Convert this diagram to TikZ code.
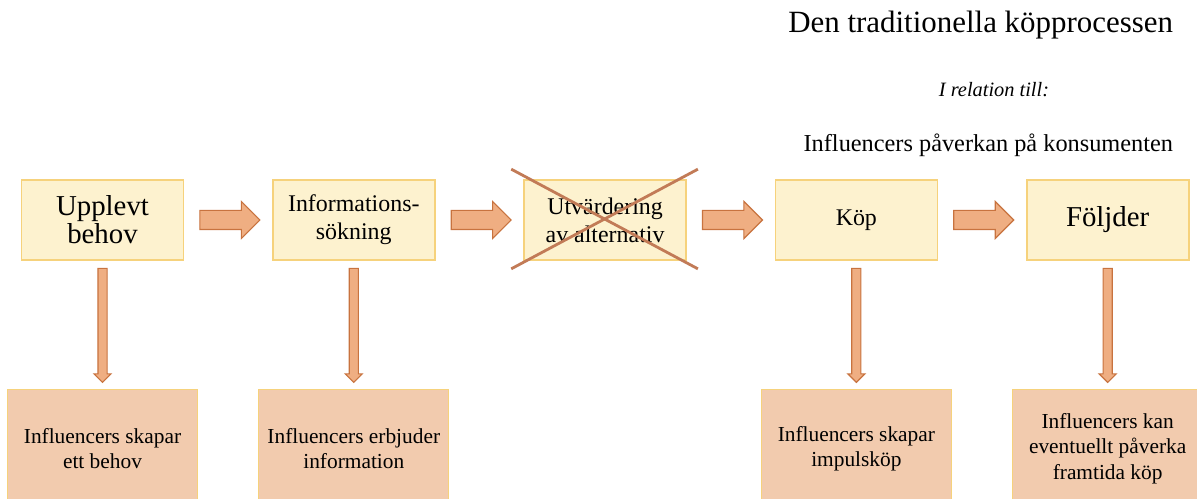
\documentclass[tikz,border=0pt]{standalone}
\usepackage{fontspec}
\setmainfont{Liberation Serif}
\usetikzlibrary{positioning, shapes.arrows, calc}
\definecolor{stegfill}{HTML}{FDF2CF}
\definecolor{stegline}{HTML}{F6D27C}
\definecolor{effektfill}{HTML}{F2CBAE}
\definecolor{pilfill}{HTML}{EFAE82}
\definecolor{pilline}{HTML}{C8733F}
\definecolor{kryss}{HTML}{C27B57}

\begin{document}
\begin{tikzpicture}[
      steg/.style={draw=stegline, line width=1.2pt, fill=stegfill, minimum width=4.05cm, minimum height=2cm,
        align=center, font=\fontsize{17}{20}\selectfont},
      storsteg/.style={steg, font=\fontsize{20.5}{20}\selectfont},
      effekt/.style={draw=stegline, line width=1pt, fill=effektfill, minimum width=4.75cm, minimum height=2.95cm,
        align=center, font=\fontsize{15.2}{18}\selectfont},
      hpil/.style={single arrow, draw=pilline, fill=pilfill, line width=0.8pt, inner xsep=0pt, inner ysep=0.225cm,
        single arrow head extend=0.225cm, minimum height=1.5cm, anchor=tail},
      vpil/.style={single arrow, draw=pilline, fill=pilfill, line width=0.8pt, inner xsep=0pt, inner ysep=0.1cm,
        single arrow head extend=0.1cm, minimum height=2.85cm, anchor=tail, rotate=-90},
    ]
    \useasboundingbox (0,0) rectangle (29.925,-12.475);

    % rubriker
    \node[anchor=base east, font=\fontsize{22}{24}\selectfont] (titel) at (29.45,-0.82) {Den traditionella köpprocessen};
    \node[anchor=base, font=\fontsize{14.5}{17}\selectfont\itshape] (relation) at (24.85,-2.425) {I relation till:};
    \node[anchor=base east, font=\fontsize{17.3}{20}\selectfont] (paverkan) at (29.45,-3.8) {Influencers påverkan på konsumenten};

    % köpprocessen
    \node[storsteg] (behov) at (2.5625,-5.5) {Upplevt\\behov};
    \node[steg, right=2.19cm of behov] (sok) {Informations-\\sökning};
    \node[steg, right=2.19cm of sok] (utv) {Utvärdering\\av alternativ};
    \node[steg, right=2.19cm of utv] (kop) {Köp};
    \node[storsteg, right=2.19cm of kop] (foljd) {Följder};

    \node[hpil] (p1) at ($(behov.east)+(0.375,0)$) {};
    \node[hpil] (p2) at ($(sok.east)+(0.375,0)$) {};
    \node[hpil] (p3) at ($(utv.east)+(0.375,0)$) {};
    \node[hpil] (p4) at ($(kop.east)+(0.375,0)$) {};

    % överkryssat steg
    \draw[kryss, line width=2pt] ($(utv.north west)+(-0.3,0.25)$) -- ($(utv.south east)+(0.275,-0.2)$);
    \draw[kryss, line width=2pt] ($(utv.north east)+(0.275,0.25)$) -- ($(utv.south west)+(-0.3,-0.2)$);

    % influencers
    \node[effekt, below=3.2cm of behov] (e1) {Influencers skapar\\ett behov};
    \node[effekt, below=3.2cm of sok] (e2) {Influencers erbjuder\\information};
    \node[effekt, below=3.2cm of kop] (e3) {Influencers skapar\\impulsköp};
    \node[effekt, below=3.2cm of foljd] (e4) {Influencers kan\\eventuellt påverka\\framtida köp};

    \node[vpil] (q1) at ($(behov.south)+(0,-0.175)$) {};
    \node[vpil] (q2) at ($(sok.south)+(0,-0.175)$) {};
    \node[vpil] (q3) at ($(kop.south)+(0,-0.175)$) {};
    \node[vpil] (q4) at ($(foljd.south)+(0,-0.175)$) {};
  \end{tikzpicture}
\end{document}
